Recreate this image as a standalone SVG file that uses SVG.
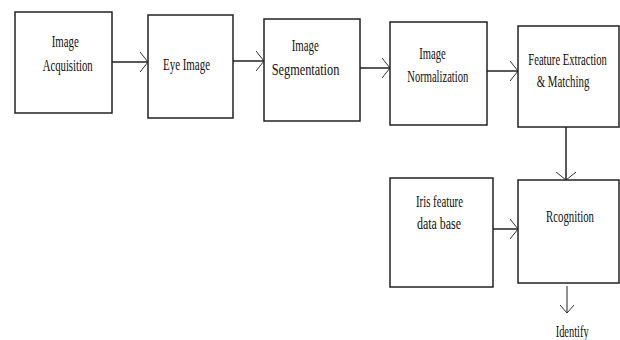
<svg xmlns="http://www.w3.org/2000/svg" width="620" height="340" viewBox="0 0 620 340">
  <defs>
    <marker id="arr" markerUnits="userSpaceOnUse" viewBox="0 0 8 20" refX="8" refY="10" markerWidth="8" markerHeight="20" orient="auto">
      <path d="M0,0 L8,10 L0,20" fill="none" stroke="#333" stroke-width="1"/>
    </marker>
    <marker id="arrs" markerUnits="userSpaceOnUse" viewBox="0 0 8 14" refX="8" refY="7" markerWidth="8" markerHeight="14" orient="auto">
      <path d="M0,0 L8,7 L0,14" fill="none" stroke="#333" stroke-width="1"/>
    </marker>
  </defs>
  <style>
    .box { fill: #ffffff; stroke: #222; stroke-width: 1.5; }
    .lbl { font-family: "Liberation Serif", "Times New Roman", serif; font-size: 16px; fill: #111; }
    .conn { stroke: #222; stroke-width: 1.5; fill: none; marker-end: url(#arr); }
  </style>
  <rect width="620" height="340" fill="#ffffff"/>

  <g id="connectors">
    <line class="conn" x1="112" y1="62" x2="148" y2="62"/>
    <line class="conn" x1="233" y1="61" x2="264" y2="61"/>
    <line class="conn" x1="360" y1="68" x2="390" y2="68"/>
    <line class="conn" x1="487" y1="71" x2="518" y2="71"/>
    <line class="conn" x1="566" y1="127" x2="566" y2="180"/>
    <line class="conn" x1="493" y1="229" x2="518" y2="229"/>
    <line class="conn" x1="567" y1="286" x2="567" y2="313" style="stroke-width:1;marker-end:url(#arrs)"/>
  </g>

  <g id="acquisition">
    <rect class="box" x="15" y="12" width="97" height="101"/>
    <text class="lbl" x="51.7" y="47" textLength="27" lengthAdjust="spacingAndGlyphs">Image</text>
    <text class="lbl" x="42.7" y="71" textLength="50" lengthAdjust="spacingAndGlyphs">Acquisition</text>
  </g>

  <g id="eye-image">
    <rect class="box" x="148" y="15" width="85" height="103"/>
    <text class="lbl" x="163" y="70" textLength="47" lengthAdjust="spacingAndGlyphs">Eye Image</text>
  </g>

  <g id="segmentation">
    <rect class="box" x="264" y="19" width="96" height="102"/>
    <text class="lbl" x="291.7" y="51" textLength="27" lengthAdjust="spacingAndGlyphs">Image</text>
    <text class="lbl" x="271.7" y="75" textLength="67.6" lengthAdjust="spacingAndGlyphs">Segmentation</text>
  </g>

  <g id="normalization">
    <rect class="box" x="390" y="22" width="97" height="103"/>
    <text class="lbl" x="419.3" y="59" textLength="26.4" lengthAdjust="spacingAndGlyphs">Image</text>
    <text class="lbl" x="407.3" y="82" textLength="61" lengthAdjust="spacingAndGlyphs">Normalization</text>
  </g>

  <g id="feature-extraction">
    <rect class="box" x="518" y="26" width="101" height="101"/>
    <text class="lbl" transform="translate(528.3,65) scale(0.663,1)" x="0" y="0">Feature Extraction</text>
    <text class="lbl" x="536.7" y="87" textLength="52.6" lengthAdjust="spacingAndGlyphs">&amp; Matching</text>
  </g>

  <g id="iris-db">
    <rect class="box" x="390" y="178" width="103" height="109"/>
    <text class="lbl" x="416" y="207" textLength="47" lengthAdjust="spacingAndGlyphs">Iris feature</text>
    <text class="lbl" x="417" y="229" textLength="44" lengthAdjust="spacingAndGlyphs">data base</text>
  </g>

  <g id="recognition">
    <rect class="box" x="518" y="180" width="101" height="103"/>
    <text class="lbl" x="546" y="222" textLength="48" lengthAdjust="spacingAndGlyphs">Rcognition</text>
  </g>

  <g id="identify">
    <text class="lbl" x="555.7" y="337" textLength="33" lengthAdjust="spacingAndGlyphs">Identify</text>
  </g>
</svg>
